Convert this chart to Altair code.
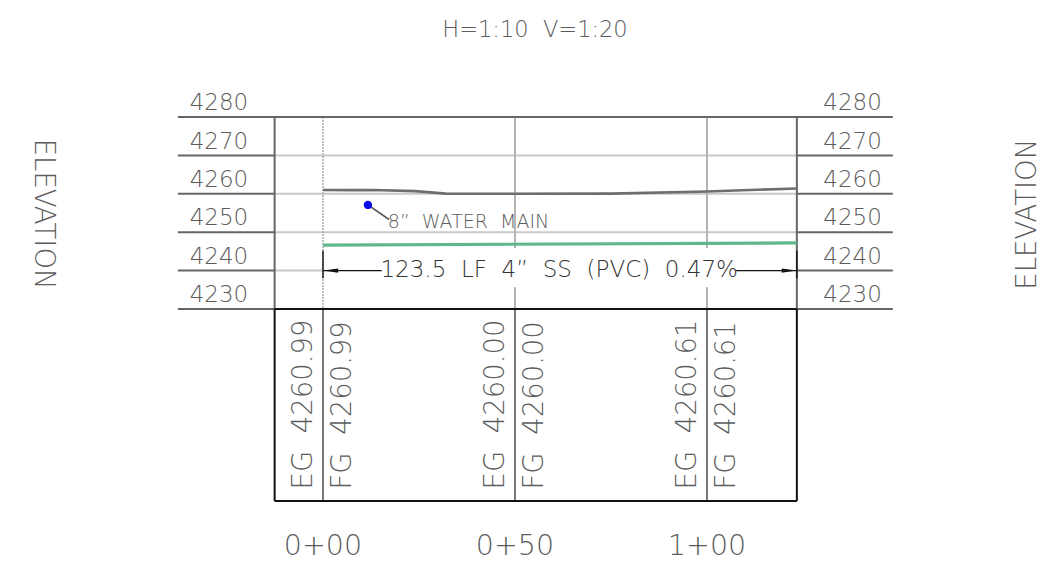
import altair as alt
import pandas as pd

# ---- chart values -------------------------------------------------------
ELEVATIONS = [4280, 4270, 4260, 4250, 4240, 4230]
STATIONS = [0, 50, 100]
STATION_LABELS = ["0+00", "0+50", "1+00"]
EG_VALUES = ["4260.99", "4260.00", "4260.61"]
FG_VALUES = ["4260.99", "4260.00", "4260.61"]

GRADE_X = [0, 6, 13, 24, 32, 50, 75, 100, 123.4]
GRADE_Y = [4260.99, 4260.95, 4261.0, 4260.7, 4260.05, 4260.0, 4260.05, 4260.61, 4261.4]

PIPE_X = [0, 123.4]
PIPE_Y = [4246.65, 4247.2]

# ---- frame -------------------------------------------------------------
X_MIN, X_MAX = -82.03, 188.8
Y_MIN, Y_MAX = 4163.85, 4308.39
LEFT_BOX, RIGHT_BOX = -12.6, 123.4
LEFT_TICK, RIGHT_TICK = -37.8, 148.4
TOP, GRID_BOTTOM, TABLE_BOTTOM = 4280, 4230, 4180

FONT = "DejaVu Sans"
TEXT_GREY = "#5c5c5c"
DARK = "#666666"
LIGHT = "#c8c8c8"
MID = "#b4b4b4"
BLACK = "#111111"
NB = "\u00a0"

xs = alt.Scale(domain=[X_MIN, X_MAX], nice=False, zero=False)
ys = alt.Scale(domain=[Y_MIN, Y_MAX], nice=False, zero=False)


def rules(rows, color, width, dash=None):
    df = pd.DataFrame(rows, columns=["x", "x2", "y", "y2"])
    kw = {"color": color, "strokeWidth": width}
    if dash:
        kw["strokeDash"] = dash
    return alt.Chart(df).mark_rule(**kw).encode(
        x=alt.X("x:Q", scale=xs, axis=None),
        x2="x2:Q",
        y=alt.Y("y:Q", scale=ys, axis=None),
        y2="y2:Q",
    )


def texts(rows, size, color=TEXT_GREY, angle=0, align="center", weight=200):
    df = pd.DataFrame(rows, columns=["x", "y", "t"])
    df["t"] = df["t"].str.replace(" ", NB)
    return alt.Chart(df).mark_text(
        font=FONT, fontSize=size, color=color, angle=angle, align=align,
        baseline="middle", fontWeight=weight,
    ).encode(
        x=alt.X("x:Q", scale=xs, axis=None),
        y=alt.Y("y:Q", scale=ys, axis=None),
        text="t:N",
    )


# grid
inner_light = [(LEFT_BOX, RIGHT_BOX, e, e) for e in [4270, 4260, 4250]]
inner_light.append((LEFT_BOX, 0, 4240, 4240))
vert_light = []
for s in STATIONS[1:]:
    vert_light += [(s, s, TOP, 4245.9), (s, s, 4235.7, GRID_BOTTOM)]
dotted = [(0, 0, TOP, GRID_BOTTOM)]
ticks_dark = []
for e in ELEVATIONS[1:]:
    ticks_dark.append((LEFT_TICK, LEFT_BOX, e, e))
    ticks_dark.append((RIGHT_BOX, RIGHT_TICK, e, e))
ticks_dark.append((LEFT_TICK, RIGHT_TICK, TOP, TOP))
box_dark = [(LEFT_BOX, LEFT_BOX, TOP, GRID_BOTTOM), (RIGHT_BOX, RIGHT_BOX, TOP, GRID_BOTTOM)]
table_black = [
    (LEFT_BOX, RIGHT_BOX, GRID_BOTTOM, GRID_BOTTOM),
    (LEFT_BOX, RIGHT_BOX, TABLE_BOTTOM, TABLE_BOTTOM),
    (LEFT_BOX, LEFT_BOX, GRID_BOTTOM, TABLE_BOTTOM),
    (RIGHT_BOX, RIGHT_BOX, GRID_BOTTOM, TABLE_BOTTOM),
]
table_vert = [(s, s, GRID_BOTTOM, TABLE_BOTTOM) for s in STATIONS]

dim_lines = [
    (0, 15.3, 4240.0, 4240.0),
    (107.4, 123.4, 4240.0, 4240.0),
    (0, 0, 4245.2, 4238.0),
    (123.4, 123.4, 4245.2, 4238.0),
]

line_df = pd.DataFrame({"x": GRADE_X, "y": GRADE_Y})
grade = alt.Chart(line_df).mark_line(color="#6e6e6e", strokeWidth=2.6).encode(
    x=alt.X("x:Q", scale=xs, axis=None), y=alt.Y("y:Q", scale=ys, axis=None))
pipe_df = pd.DataFrame({"x": PIPE_X, "y": PIPE_Y})
pipe = alt.Chart(pipe_df).mark_line(color="#5fb88c", strokeWidth=3.2).encode(
    x=alt.X("x:Q", scale=xs, axis=None), y=alt.Y("y:Q", scale=ys, axis=None))

leader = rules([(11.7, 17.2, 4257.1, 4253.3)], "#555555", 1.6)
water_pt = alt.Chart(pd.DataFrame({"x": [11.7], "y": [4257.1]})).mark_point(
    filled=True, color="#0808e8", size=70, opacity=1
).encode(x=alt.X("x:Q", scale=xs, axis=None), y=alt.Y("y:Q", scale=ys, axis=None))

arrow_l = alt.Chart(pd.DataFrame({"x": [2.0], "y": [4240.0]})).mark_point(
    filled=True, color=BLACK, size=220, opacity=1, shape="M-1,0L1,-0.3L1,0.3Z"
).encode(x=alt.X("x:Q", scale=xs, axis=None), y=alt.Y("y:Q", scale=ys, axis=None))
arrow_r = alt.Chart(pd.DataFrame({"x": [121.4], "y": [4240.0]})).mark_point(
    filled=True, color=BLACK, size=220, opacity=1, shape="M1,0L-1,-0.3L-1,0.3Z"
).encode(x=alt.X("x:Q", scale=xs, axis=None), y=alt.Y("y:Q", scale=ys, axis=None))

# text
elev_rows = []
for e in ELEVATIONS:
    elev_rows.append((-27.1, e + 3.6, str(e)))
    elev_rows.append((137.9, e + 3.6, str(e)))

eg_rows = []
for s, eg, fg in zip(STATIONS, EG_VALUES, FG_VALUES):
    eg_rows.append((s - 4.9, 4183.0, f"EG  {eg}"))
    eg_rows.append((s + 5.3, 4183.0, f"FG  {fg}"))

sta_rows = [(s, 4168.2, l) for s, l in zip(STATIONS, STATION_LABELS)]

chart = alt.layer(
    rules(inner_light, LIGHT, 2),
    rules(vert_light, MID, 2),
    rules(dotted, "#b0b0b0", 1.6, [2, 1]),
    rules(ticks_dark, DARK, 2),
    rules(box_dark, DARK, 2),
    rules(table_vert, "#777777", 2),
    rules(table_black, BLACK, 2),
    grade,
    pipe,
    rules(dim_lines, BLACK, 1.4),
    arrow_l,
    arrow_r,
    leader,
    water_pt,
    texts(elev_rows, 23),
    texts(eg_rows, 27.5, angle=270, align="left"),
    texts(sta_rows, 28.5),
    texts([(55.2, 4302.66, "H=1:10  V=1:20")], 22.5),
    texts([(-73.0, 4254.7, "ELEVATION")], 27.5, angle=90),
    texts([(183.7, 4254.7, "ELEVATION")], 27.5, angle=270),
    texts([(37.9, 4252.7, "8”  WATER  MAIN")], 19),
    texts([(61.5, 4240.2, "123.5  LF  4”  SS  (PVC)  0.47%")], 23, color="#333333"),
).properties(
    width=1040, height=555, padding=0,
    autosize=alt.AutoSizeParams(type="none"),
).configure_view(stroke=None)

chart.save("out.html", embed_options={"renderer": "svg", "actions": False})
